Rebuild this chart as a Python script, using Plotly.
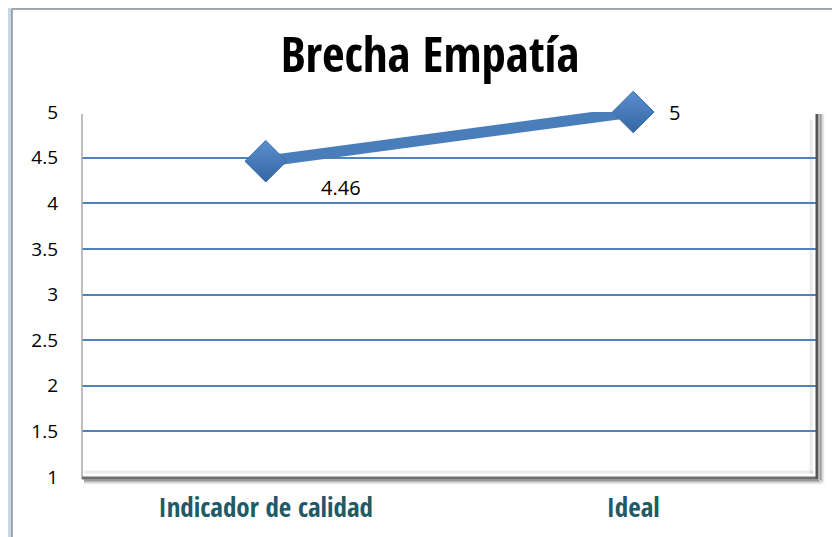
import plotly.graph_objects as go

categories = ["Indicador de calidad", "Ideal"]
values = [4.46, 5]
label_texts = ["4.46", "5"]
y_ticks = [1, 1.5, 2, 2.5, 3, 3.5, 4, 4.5, 5]
y_tick_text = ["1", "1.5", "2", "2.5", "3", "3.5", "4", "4.5", "5"]
title_text = "Brecha Empatía"

# page has an 8px body margin; size figure so it fills the 840x537 window
OFF = 8
W, H = 840 - OFF, 537 - OFF
# plot area in window pixels: x 82..817, y 112..477
L, R, T, B = 82 - OFF, 840 - 817, 112 - OFF, 537 - 477
pw, ph = W - L - R, H - T - B


def px(x):  # window pixel -> paper
    return (x - OFF - L) / pw


def py(y):
    return (H - B - (y - OFF)) / ph


COND = "Open Sans Condensed, Roboto Condensed, DejaVu Sans"

fig = go.Figure()
fig.add_trace(go.Scatter(
    x=categories, y=values, mode="lines+markers",
    line=dict(color="#4A7EBB", width=11),
    marker=dict(symbol="diamond", size=32, color="#5B8FD0",
                gradient=dict(type="vertical", color="#3565A2"),
                line=dict(color="#3A6BA8", width=1)),
    showlegend=False, hoverinfo="skip", cliponaxis=False,
))

# data labels
shifts = [(75, -26), (41, 0)]
for c, v, t, (dx, dy) in zip(categories, values, label_texts, shifts):
    fig.add_annotation(x=c, y=v, text=t, showarrow=False, xshift=dx, yshift=dy,
                       font=dict(family="Open Sans", size=20, color="#000000"))

shapes = []
# outer chart border (blue glow + thin gray line)
shapes.append(dict(type="rect", xref="paper", yref="paper", x0=px(0), x1=px(12), y0=py(9), y1=py(560),
                   fillcolor="#C9D6E6", line=dict(width=0)))
shapes.append(dict(type="rect", xref="paper", yref="paper", x0=px(0), x1=px(860), y0=py(0), y1=py(9),
                   fillcolor="#C9D6E6", line=dict(width=0)))
shapes.append(dict(type="line", xref="paper", yref="paper", x0=px(12), x1=px(12), y0=py(9), y1=py(560),
                   line=dict(color="#8A9098", width=1.5)))
shapes.append(dict(type="line", xref="paper", yref="paper", x0=px(12), x1=px(860), y0=py(9), y1=py(9),
                   line=dict(color="#8A9098", width=1.5)))
# plot area shadow
for i, op in enumerate([0.35, 0.25, 0.15, 0.08, 0.04]):
    shapes.append(dict(type="line", xref="paper", yref="paper", x0=px(84), x1=px(819 + i), y0=py(480 + i), y1=py(480 + i),
                       line=dict(color="rgba(0,0,0,%s)" % op, width=1.5), layer="below"))
    shapes.append(dict(type="line", xref="paper", yref="paper", x0=px(820 + i), x1=px(820 + i), y0=py(114), y1=py(480 + i),
                       line=dict(color="rgba(0,0,0,%s)" % op, width=1.5), layer="below"))
# plot borders
shapes.append(dict(type="line", xref="paper", yref="paper", x0=0, x1=0, y0=py(114), y1=py(479),
                   line=dict(color="#A8A8A8", width=1.5)))
shapes.append(dict(type="line", xref="paper", yref="paper", x0=0, x1=px(818), y0=py(478), y1=py(478),
                   line=dict(color="#6E6E6E", width=3)))
shapes.append(dict(type="line", xref="paper", yref="paper", x0=px(817), x1=px(817), y0=py(114), y1=py(479),
                   line=dict(color="#555555", width=3)))
# inner bevel shading
shapes.append(dict(type="line", xref="paper", yref="paper", x0=px(84), x1=px(814), y0=py(472), y1=py(472),
                   line=dict(color="rgba(0,0,0,0.08)", width=3), layer="below"))
shapes.append(dict(type="line", xref="paper", yref="paper", x0=px(811), x1=px(811), y0=py(120), y1=py(474),
                   line=dict(color="rgba(0,0,0,0.08)", width=3), layer="below"))

fig.update_layout(
    width=W, height=H,
    margin=dict(l=L, r=R, t=T, b=B, pad=0),
    paper_bgcolor="white", plot_bgcolor="white",
    title=dict(text="<b>" + title_text + "</b>", x=px(430), xanchor="center",
               y=1 - (55 - OFF) / H, yanchor="middle", xref="paper",
               font=dict(family=COND, size=49, color="#000000")),
    shapes=shapes,
    xaxis=dict(type="category", range=[-0.5, 1.5], showgrid=False, zeroline=False, showline=False,
               ticks="", ticklabelstandoff=12,
               tickfont=dict(family=COND, size=27, color="#215967"),
               tickvals=categories, ticktext=["<b>%s</b>" % c for c in categories]),
    yaxis=dict(range=[1, 5], tickvals=y_ticks, ticktext=y_tick_text, showgrid=True,
               gridcolor="#4F81BD", gridwidth=1.5, zeroline=False, showline=False, ticks="",
               ticklabelstandoff=23,
               tickfont=dict(family="Open Sans", size=19, color="#000000")),
)

fig.write_html("out.html")
